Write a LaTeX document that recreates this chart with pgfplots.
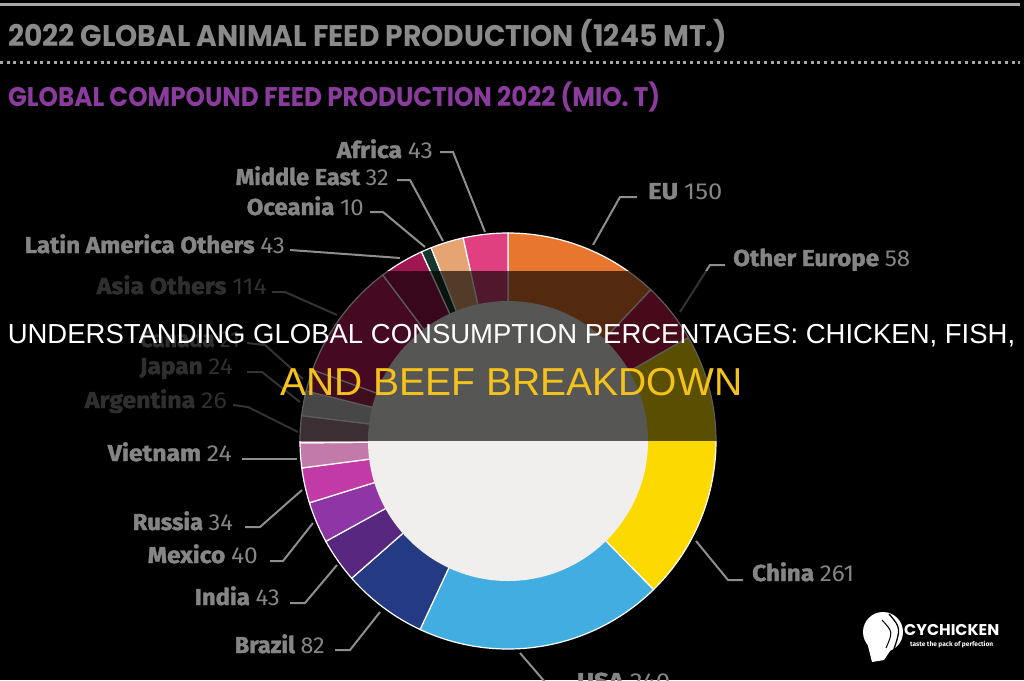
\documentclass[border=0pt]{standalone}
\usepackage{pgfplots}
\pgfplotsset{compat=1.18}
\usepackage{pgfplotstable}
\usepackage{graphicx}
\usepackage{fontspec}
\setmainfont{Liberation Sans}
\newfontfamily\labfont{Fira Sans}[BoldFeatures={FakeBold=1.6}]
\newfontfamily\tagfont{Fira Sans}
\newfontfamily\headfont{Poppins}

% palette
\definecolor{cEU}{HTML}{E8762F}
\definecolor{cOEu}{HTML}{C81C4C}
\definecolor{cCN}{HTML}{FCD900}
\definecolor{cUS}{HTML}{42ADE1}
\definecolor{cBR}{HTML}{243A82}
\definecolor{cIN}{HTML}{582880}
\definecolor{cMX}{HTML}{8F35A6}
\definecolor{cRU}{HTML}{C23AA6}
\definecolor{cVN}{HTML}{C27AAA}
\definecolor{cAR}{HTML}{A88592}
\definecolor{cJP}{HTML}{C6C6C6}
\definecolor{cCA}{HTML}{B02858}
\definecolor{cAS}{HTML}{C21E5E}
\definecolor{cLA}{HTML}{A01650}
\definecolor{cOC}{HTML}{17362E}
\definecolor{cME}{HTML}{E6A473}
\definecolor{cAF}{HTML}{E0407F}
\definecolor{holegray}{HTML}{F0EFED}
\definecolor{labgray}{HTML}{858585}
\definecolor{leadgray}{HTML}{8E8E8E}
\definecolor{rulegray}{HTML}{A8A8A8}
\definecolor{titlegray}{HTML}{8A8A8A}
\definecolor{titlepurple}{HTML}{8B3B9E}
\definecolor{bandyellow}{HTML}{F5C21B}

% scale a text to a given width and cap height (both in pt)
\newcommand\fitcap[3]{\resizebox{#1pt}{#2pt}{\raisebox{0pt}[\fontcharht\font`E][0pt]{#3}}}
\newcommand\feedlabel[3]{{\labfont\bfseries\fitcap{#3}{16}{#1 {\mdseries #2}}}}

% compound feed production 2022, million t; label anchor and leader line in px
\pgfplotstableread[col sep=comma]{
name,value,col,side,lx,ly,lw,ax,ay,bx,by,cx,cy
EU,150,cEU,west,648,199,74,637,197,620,197,593,245
Other Europe,58,cOEu,west,733,266,177,725,265,710,265,680,312
China,261,cCN,west,752,581,102,743,580,728,580,696,541
USA,240,cUS,west,577,689,93,545,682,545,682,520,653
Brazil,82,cBR,east,325,653,90,335,650,350,650,380,612
India,43,cIN,east,280,605,85,290,603,305,603,337,565
Mexico,40,cMX,east,258,563,110,270,561,283,561,313,523
Russia,34,cRU,east,233,530,100,245,527,260,527,302,490
Vietnam,24,cVN,east,232,461,124,242,459,242,459,297,459
Argentina,26,cAR,east,227,408,142,233,405,248,407,298,432
Japan,24,cJP,east,233,374,93,247,372,262,372,300,402
Canada,21,cCA,east,240,347,100,247,343,265,345,303,379
Asia Others,114,cAS,east,267,294,170,272,292,285,292,337,315
Latin America Others,43,cLA,east,285,253,260,290,250,290,250,400,258
Oceania,10,cOC,east,364,215,117,370,212,383,212,425,247
Middle East,32,cME,east,389,185,153,397,180,410,180,443,241
Africa,43,cAF,east,433,158,96,440,152,453,152,485,232
}\feeddata

\newcommand\getcell[2]{\pgfplotstablegetelem{\i}{#1}\of\feeddata\let#2\pgfplotsretval}

\begin{document}
\begin{tikzpicture}
\begin{axis}[
  at={(0,0)}, anchor=south west,
  scale only axis, width=1024pt, height=680pt,
  xmin=0, xmax=1024, ymin=0, ymax=680, y dir=reverse,
  hide axis, clip=false]

\fill[black] (axis cs:0,0) rectangle (axis cs:1024,680);

% header
\draw[rulegray, line width=3pt] (axis cs:0,4) -- (axis cs:1020,4);
\draw[rulegray, line width=3pt, dash pattern=on 3pt off 3.7pt] (axis cs:0,62) -- (axis cs:1020,62);
\node[anchor=base west, inner sep=0pt, text=titlegray] at (axis cs:8,46)
  {\headfont\bfseries\fitcap{719}{21}{2022 GLOBAL ANIMAL FEED PRODUCTION (1245 MT.)}};
\node[anchor=base west, inner sep=0pt, text=titlepurple] at (axis cs:8,106)
  {\headfont\bfseries\fitcap{652}{19}{GLOBAL COMPOUND FEED PRODUCTION 2022 (MIO. T)}};

% total of all regions
\pgfplotstablegetrowsof{\feeddata}
\pgfmathtruncatemacro\lastrow{\pgfplotsretval-1}
\gdef\total{0}
\foreach \i in {0,...,\lastrow}{
  \getcell{value}\val
  \pgfmathsetmacro\newtotal{\total+\val}
  \xdef\total{\newtotal}
}

% donut ring, clockwise from 12 o'clock
\gdef\cum{0}
\foreach \i in {0,...,\lastrow}{
  \getcell{value}\val
  \getcell{col}\wcol
  \pgfmathsetmacro\aone{90-\cum/\total*360}
  \pgfmathsetmacro\atwo{90-(\cum+\val)/\total*360}
  \edef\donutpiece{\noexpand\filldraw[fill=\wcol, draw=white, line width=1.2pt]
    (axis cs:508,441) -- ++(\aone:208pt) arc[start angle=\aone, end angle=\atwo, radius=208pt] -- cycle;}
  \donutpiece
  \pgfmathsetmacro\newcum{\cum+\val}
  \xdef\cum{\newcum}
}
\fill[holegray] (axis cs:508,441) circle[radius=140pt];

% leader lines and labels
\foreach \i in {0,...,\lastrow}{
  \getcell{name}\nm
  \getcell{value}\val
  \getcell{side}\sd
  \getcell{lx}\lx \getcell{ly}\ly \getcell{lw}\lw
  \getcell{ax}\ax \getcell{ay}\ay \getcell{bx}\bx \getcell{by}\by \getcell{cx}\cx \getcell{cy}\cy
  \edef\leaderline{\noexpand\draw[leadgray, line width=2pt]
    (axis cs:\ax,\ay) -- (axis cs:\bx,\by) -- (axis cs:\cx,\cy);}
  \leaderline
  \edef\labelnode{\noexpand\node[anchor=base \sd, inner sep=0pt, text=labgray]
    at (axis cs:\lx,\ly) {\noexpand\feedlabel{\nm}{\val}{\lw}};}
  \labelnode
}

% headline band
\fill[black, opacity=0.64] (axis cs:0,271) rectangle (axis cs:1024,441);
\node[anchor=base, inner sep=0pt, text=white, font=\fontsize{27.5}{30}\selectfont]
  at (axis cs:511.5,343) {UNDERSTANDING GLOBAL CONSUMPTION PERCENTAGES: CHICKEN, FISH,};
\node[anchor=base, inner sep=0pt, text=bandyellow, font=\fontsize{39}{42}\selectfont]
  at (axis cs:511.5,395) {AND BEEF BREAKDOWN};

% logo
\fill[white] (axis cs:883,632) circle[radius=20pt];
\fill[white] (axis cs:866,638) -- (axis cs:872,662) -- (axis cs:884,660) -- (axis cs:892,648) -- cycle;
\draw[black, line width=1.3pt] (axis cs:889,614) .. controls (axis cs:901,628) .. (axis cs:893,652);
\draw[black, line width=1pt] (axis cs:882,620) .. controls (axis cs:893,632) .. (axis cs:886,648);
\node[anchor=base west, inner sep=0pt, text=white] at (axis cs:904,635)
  {\headfont\bfseries\fitcap{95}{11}{CYCHICKEN}};
\node[anchor=base west, inner sep=0pt, text=white] at (axis cs:910,646)
  {\tagfont\bfseries\resizebox{83pt}{!}{taste the pack of perfection}};
\end{axis}
\pgfresetboundingbox
\useasboundingbox (0,0) rectangle (1024pt,680pt);
\end{tikzpicture}
\end{document}
